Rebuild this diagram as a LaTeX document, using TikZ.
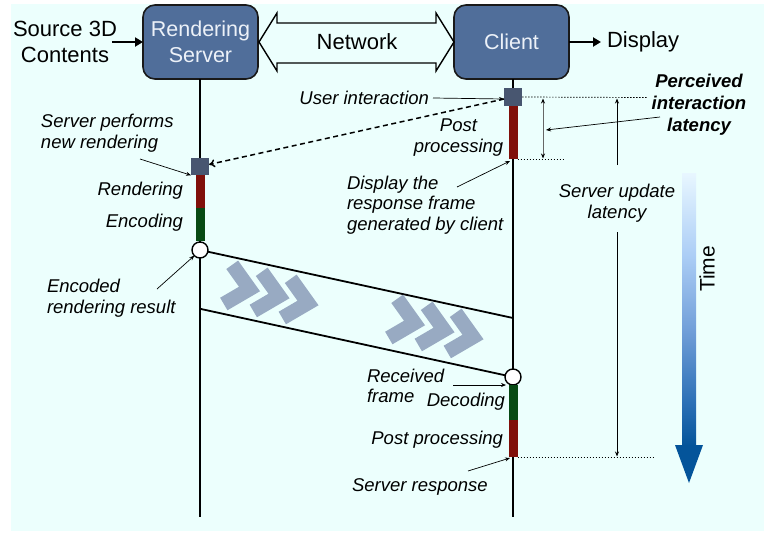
\documentclass[tikz,border=0pt]{standalone}
\usepackage{fontspec}
\setmainfont{Liberation Sans}
\usetikzlibrary{arrows.meta,calc}

\definecolor{bgcyan}{RGB}{236,255,253}
\definecolor{boxblue}{RGB}{80,110,154}
\definecolor{boxtext}{RGB}{236,241,248}
\definecolor{stampgray}{RGB}{72,86,112}
\definecolor{procred}{RGB}{128,16,10}
\definecolor{codegreen}{RGB}{8,74,20}
\definecolor{chevgray}{RGB}{152,170,194}
\definecolor{tA}{RGB}{232,247,255}
\definecolor{tB}{RGB}{172,206,246}
\definecolor{tC}{RGB}{112,158,216}
\definecolor{tD}{RGB}{44,112,182}
\definecolor{tE}{RGB}{4,84,154}

% time axis shading, bottom (25bp) to top (75bp)
\pgfdeclareverticalshading{timeshade}{100bp}{%
  color(0bp)=(tE); color(25bp)=(tE); color(33bp)=(tD); color(46bp)=(tC);
  color(60bp)=(tB); color(75bp)=(tA); color(100bp)=(tA)}

\begin{document}
\begin{tikzpicture}[x=1pt,y=-1pt,
  every node/.style={inner sep=0pt,outer sep=0pt},
  big/.style={font=\fontsize{22}{26}\selectfont},
  lbl/.style={font=\fontsize{18.5}{20.5}\selectfont\itshape},
  hostbox/.style={draw=black!90,line width=1.6pt,fill=boxblue,rounded corners=12pt,
    minimum width=115pt,minimum height=74pt,text=boxtext,align=center,
    font=\fontsize{21.5}{26}\selectfont},
  stamp/.style={fill=stampgray,minimum width=18pt,minimum height=17.5pt},
  frame/.style={circle,draw=black,line width=1.4pt,fill=white,minimum size=16pt},
  lifeline/.style={line width=2.4pt},
  thickarrow/.style={line width=2.4pt,-{Triangle[length=8pt,width=9pt]}},
  note/.style={line width=0.7pt,-{Stealth[length=5pt,width=4pt]}},
  dots/.style={line width=0.7pt,dash pattern=on 1.5pt off 1.5pt},
  wire/.style={line width=1.8pt},
  chev/.style={line width=14.5pt,draw=chevgray,miter limit=10,line cap=butt}]

\useasboundingbox (0,0) rectangle (764,533);
\fill[bgcyan] (11,4) rectangle (764,531);

% hosts and their inputs and outputs
\node[hostbox] (server) at (200.5,42) {Rendering\\Server};
\node[hostbox] (client) at (511.5,42) {Client};
\node[big,align=center] (src) at (65,42) {Source 3D\\Contents};
\node[big,anchor=west] (disp) at (607,42) {Display};
\draw[thickarrow] ([xshift=-5pt]src.east) -- (server.west);
\draw[thickarrow] (client.east) -- ([xshift=-6pt]disp.west);

% network double arrow
\draw[line width=1.4pt,fill=bgcyan,line join=miter]
  (259,42) -- (277,13) -- (277,23) -- (436,23) -- (436,13) -- (454,42)
  -- (436,71) -- (436,63) -- (277,63) -- (277,71) -- cycle;
\node[big] (net) at (357,42) {Network};

% lifelines
\coordinate (sEnd) at (200,517);
\coordinate (cEnd) at (513,517);
\draw[lifeline] (server.south -| sEnd) -- (sEnd);
\draw[lifeline] (client.south -| cEnd) -- (cEnd);

% server side activity
\node[stamp] (ssq) at (200,166.5) {};
\fill[procred] (195.5,175) rectangle (204.5,207.5);
\fill[codegreen] (195.5,207.5) rectangle (204.5,241);
\node[frame] (scirc) at (200,250) {};

% client side activity
\node[stamp] (csq) at (513,97) {};
\fill[procred] (508.5,105.5) rectangle (517.5,159);
\node[frame] (ccirc) at (513,377) {};
\fill[codegreen] (508.5,385) rectangle (517.5,420);
\fill[procred] (508.5,420) rectangle (517.5,457);

% request from client to server
\draw[line width=1.5pt,dash pattern=on 5pt off 3.5pt,-{To[length=6pt,width=8pt]}] (csq) -- (ssq);

% frame transmission
\coordinate (upEnd) at (513,318);
\coordinate (lowStart) at (201,309);
\draw[wire] (scirc) -- (upEnd);
\draw[wire] (lowStart) -- (ccirc);

% chevrons along the transmission band
\foreach \x/\y in {249.5/289, 279/296, 308/303, 414.5/323, 444/330, 473/337}
  \draw[chev] (\x,\y) ++(-17.3,-24.2) -- (\x,\y) -- ++(-25.7,15);

% server labels
\node[lbl,anchor=west,align=left] (perf) at (41,133) {Server performs\\new rendering};
\draw[note] (140,159) -- (ssq.south west);
\node[lbl,anchor=east] (rend) at (183,191) {Rendering};
\node[lbl,anchor=east] (enc) at (183,223) {Encoding};
\node[lbl,anchor=west,align=left] (encres) at (47,298) {Encoded\\rendering result};
\draw[note] (157,289) -- (scirc.south west);

% client labels
\node[lbl,anchor=east] (ui) at (429,98) {User interaction};
\draw[note] ([xshift=4pt]ui.east) -- ([yshift=-2pt]csq.west);
\node[lbl,align=center] (post1) at (458.5,137.5) {Post\\processing};
\node[lbl,anchor=west,align=left] (dispresp) at (347,205) {Display the\\response frame\\generated by client};
\draw[note] (457,187) -- (510,161);
\node[lbl,anchor=west,align=left] (recv) at (367,386) {Received\\frame};
\draw[note] (453,385) -- (506,385);
\node[lbl,anchor=east] (dec) at (505,402) {Decoding};
\node[lbl,anchor=east] (post2) at (503,440) {Post processing};
\node[lbl,anchor=west] (resp) at (352,487) {Server response};
\draw[note] (468,471) -- (510,458);

% latency markers
\draw[dots] (csq.east) -- (647,97.5);
\draw[dots] (517.5,159) -- (565,159);
\draw[dots] (517.5,457) -- (653,457);
\draw[line width=0.8pt,draw=black!60,{Stealth[length=5pt,width=4pt,black]}-{Stealth[length=5pt,width=4pt,black]}] (543,98.5) -- (543,158.5);
\node[font=\fontsize{18.5}{22}\selectfont\bfseries\itshape,align=center] (perc) at (699,105) {Perceived\\interaction\\latency};
\draw[note] (660,117) -- (546,130);
\node[lbl,align=center] (sul) at (617,203) {Server update\\latency};
\draw[line width=0.8pt,-{Stealth[length=5pt,width=4pt]}] (617,165) -- (617,98.5);
\draw[line width=0.8pt,-{Stealth[length=5pt,width=4pt]}] (617,232) -- (617,456.5);

% time axis
\shade[shading=timeshade] (682,173) rectangle (696,446);
\fill[tE] (675,445) -- (703,445) -- (689,483) -- cycle;
\node[font=\fontsize{21}{24}\selectfont,rotate=90] (time) at (707,269) {Time};
\end{tikzpicture}
\end{document}
